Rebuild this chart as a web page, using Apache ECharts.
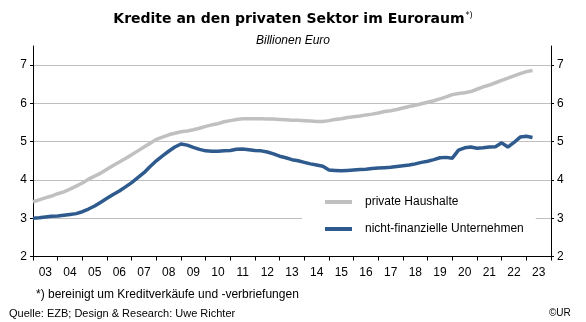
<!DOCTYPE html>
<html>
<head>
<meta charset="utf-8">
<script src="https://cdn.jsdelivr.net/npm/echarts@6/dist/echarts.min.js"></script>
<style>
html,body{margin:0;padding:0;background:#fff;}
#chart{width:586px;height:322px;}
</style>
</head>
<body>
<div id="chart"></div>
<script>
// Quarterly observations starting 2003 Q1 (Billionen Euro)
const startYear = 2003;
const yearLabels = ['03','04','05','06','07','08','09','10','11','12','13','14','15','16','17','18','19','20','21','22','23'];
const yTicks = [2, 3, 4, 5, 6, 7];
const privateHaushalte = [
  3.43, 3.48, 3.53, 3.58, 3.64, 3.69, 3.76, 3.84,
  3.92, 4.02, 4.10, 4.18, 4.28, 4.38, 4.47, 4.56,
  4.66, 4.76, 4.86, 4.96, 5.06, 5.12, 5.18, 5.22,
  5.26, 5.28, 5.31, 5.35, 5.40, 5.44, 5.47, 5.52,
  5.55, 5.58, 5.60, 5.60, 5.60, 5.60, 5.59, 5.59,
  5.58, 5.57, 5.56, 5.56, 5.55, 5.54, 5.53, 5.53,
  5.55, 5.58, 5.60, 5.63, 5.65, 5.67, 5.70, 5.72,
  5.75, 5.79, 5.81, 5.84, 5.88, 5.92, 5.95, 5.99,
  6.03, 6.07, 6.12, 6.17, 6.23, 6.26, 6.28, 6.31,
  6.37, 6.43, 6.48, 6.54, 6.60, 6.66, 6.72, 6.78,
  6.83, 6.86
];
const nichtFinUnternehmen = [
  3.00, 3.01, 3.03, 3.05, 3.06, 3.08, 3.10, 3.12,
  3.17, 3.24, 3.32, 3.42, 3.52, 3.62, 3.71, 3.82,
  3.93, 4.06, 4.19, 4.35, 4.50, 4.63, 4.75, 4.86,
  4.94, 4.91, 4.85, 4.80, 4.76, 4.75, 4.75, 4.76,
  4.77, 4.80, 4.81, 4.79, 4.77, 4.76, 4.73, 4.68,
  4.62, 4.58, 4.53, 4.50, 4.46, 4.42, 4.39, 4.36,
  4.26, 4.25, 4.24, 4.25, 4.26, 4.27, 4.28, 4.30,
  4.31, 4.32, 4.33, 4.35, 4.37, 4.39, 4.42, 4.46,
  4.49, 4.53, 4.58, 4.59, 4.57, 4.78, 4.84, 4.86,
  4.83, 4.84, 4.86, 4.87, 4.97, 4.86, 4.98, 5.12,
  5.14, 5.11
];

const toPairs = arr => arr.map((v, i) => [startYear + i / 4, v]);

const font = 'Arial, "Liberation Sans", sans-serif';
const chart = echarts.init(document.getElementById('chart'), null, {renderer: 'canvas'});

const yAxisBase = {
  type: 'value', min: 2, max: 7.5, interval: 1,
  axisLine: {show: true, lineStyle: {color: '#000', width: 1}},
  axisTick: {show: true, length: 3, inside: false, customValues: yTicks, lineStyle: {color: '#000'}},
  axisLabel: {customValues: yTicks, color: '#000', fontFamily: font, fontSize: 12, margin: 6,
              formatter: v => (Number.isInteger(v) ? String(v) : '')}
};

chart.setOption({
  animation: false,
  backgroundColor: '#fff',
  grid: {left: 33, right: 35, top: 46, bottom: 65.5, containLabel: false},
  xAxis: [
    {
      type: 'value', min: 2003, max: 2024, interval: 1,
      axisLine: {show: true, onZero: false, lineStyle: {color: '#000', width: 1}},
      axisTick: {show: true, length: 4, lineStyle: {color: '#000'}},
      axisLabel: {show: false},
      splitLine: {show: false}
    },
    {
      type: 'category', data: yearLabels, boundaryGap: true, position: 'bottom',
      axisLine: {show: false}, axisTick: {show: false},
      axisLabel: {color: '#000', fontFamily: font, fontSize: 12, margin: 10, interval: 0},
      splitLine: {show: false}
    }
  ],
  yAxis: [
    Object.assign({}, yAxisBase, {
      position: 'left',
      splitLine: {show: true, lineStyle: {color: ['#bfbfbf','#bfbfbf','#bfbfbf','#bfbfbf','#bfbfbf','#bfbfbf','rgba(0,0,0,0)'], width: 1}}
    }),
    Object.assign({}, yAxisBase, {position: 'right', splitLine: {show: false}})
  ],
  legend: {
    orient: 'vertical', left: 302, top: 188,
    backgroundColor: '#fff',
    padding: [8, 12, 8, 23],
    itemGap: 15, itemWidth: 27, itemHeight: 4, icon: 'rect',
    textStyle: {color: '#000', fontFamily: font, fontSize: 12, padding: [0, 0, 0, 8]},
    data: ['private Haushalte', 'nicht-finanzielle Unternehmen']
  },
  series: [
    {
      name: 'private Haushalte', type: 'line', xAxisIndex: 0, yAxisIndex: 0,
      data: toPairs(privateHaushalte), showSymbol: false, symbol: 'none', smooth: false,
      lineStyle: {color: '#c0c0c0', width: 3.5}, itemStyle: {color: '#c0c0c0'}, z: 2
    },
    {
      name: 'nicht-finanzielle Unternehmen', type: 'line', xAxisIndex: 0, yAxisIndex: 0,
      data: toPairs(nichtFinUnternehmen), showSymbol: false, symbol: 'none', smooth: false,
      lineStyle: {color: '#2f5a8d', width: 3.5}, itemStyle: {color: '#2f5a8d'}, z: 3
    }
  ],
  graphic: [
    {
      type: 'text', left: 'center', top: 12,
      style: {
        text: '{t|Kredite an den privaten Sektor im Euroraum}{s|*)}',
        rich: {
          t: {fontFamily: 'Verdana, "DejaVu Sans", sans-serif', fontWeight: 'bold', fontSize: 14, fill: '#000'},
          s: {fontFamily: 'Verdana, "DejaVu Sans", sans-serif', fontSize: 8, fill: '#000', verticalAlign: 'top', padding: [0, 0, 7, 1]}
        }
      }
    },
    {
      type: 'text', left: 'center', top: 35,
      style: {text: 'Billionen Euro', fontFamily: font, fontStyle: 'italic', fontSize: 12, fill: '#000'}
    },
    {
      type: 'text', left: 36, top: 289,
      style: {text: '*) bereinigt um Kreditverkäufe und -verbriefungen', fontFamily: font, fontSize: 12, fill: '#000'}
    },
    {
      type: 'text', left: 9, top: 308,
      style: {text: 'Quelle: EZB; Design & Research: Uwe Richter', fontFamily: font, fontSize: 11, fill: '#000'}
    },
    {
      type: 'text', left: 549, top: 308,
      style: {text: '©UR', fontFamily: font, fontSize: 10, fill: '#000'}
    }
  ]
});
</script>
</body>
</html>
